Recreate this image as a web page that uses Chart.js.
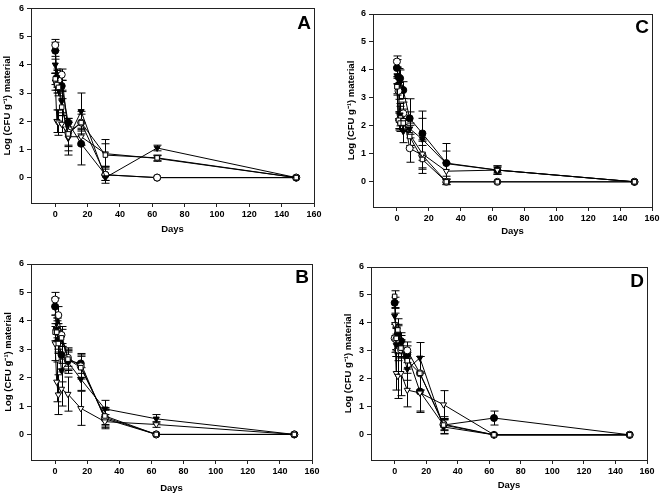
<!DOCTYPE html>
<html>
<head>
<meta charset="utf-8">
<script src="https://cdn.jsdelivr.net/npm/chart.js@4"></script>
<style>
  html, body { margin: 0; padding: 0; background: #fff; }
  #wrap { position: relative; width: 664px; height: 494px; }
  canvas { position: absolute; }
</style>
</head>
<body>
<div id="wrap">
  <canvas id="chartA" width="330" height="240" style="left:0;top:0"></canvas>
  <canvas id="chartC" width="334" height="240" style="left:330px;top:0"></canvas>
  <canvas id="chartB" width="330" height="254" style="left:0;top:240px"></canvas>
  <canvas id="chartD" width="334" height="254" style="left:330px;top:240px"></canvas>
</div>
<script>
// sampling days (x axis)
var days = [0, 1, 2, 4, 8, 16, 31, 63, 149];
var xTicks = [0, 20, 40, 60, 80, 100, 120, 140, 160];
var yTicks = [0, 1, 2, 3, 4, 5, 6];

// Panel A
var aFilledCircle = [4.5, 3.5, 3.3, 3.25, 1.95, 1.2, 0.1, 0, 0];
var aFilledCircleErr = [0.3, 0.3, 0.2, 0.2, 0.15, 0.75, 0.3, 0, 0];
var aOpenCircle = [4.7, 3.4, 3.45, 3.65, 1.6, 1.95, 0.1, 0, 0];
var aOpenCircleErr = [0.2, 0.3, 0.2, 0.2, 0.5, 0.3, 0.2, 0, 0];
var aFilledTri = [4.0, 3.55, 3.3, 2.7, 1.4, 2.35, 0, 1.05, 0];
var aFilledTriErr = [0.3, 0.3, 0.3, 0.4, 0.6, 0.65, 0.1, 0.1, 0];
var aOpenTri = [3.4, 2.0, 1.95, 1.9, 1.45, 1.45, 0.85, 0.68, 0];
var aOpenTriErr = [0.3, 0.4, 0.45, 0.3, 0.5, 0.3, 0.5, 0.1, 0];
var aOpenSquare = [3.5, 3.3, 3.2, 2.5, 1.55, 1.95, 0.8, 0.7, 0];
var aOpenSquareErr = [0.2, 0.3, 0.3, 0.3, 0.4, 0.4, 0.4, 0.1, 0];

// Panel B
var bFilledCircle = [4.5, 3.7, 3.3, 2.8, 2.6, 2.5, 0.55, 0, 0];
var bFilledCircleErr = [0.3, 0.3, 0.3, 0.3, 0.3, 0.35, 0.3, 0, 0];
var bOpenCircle = [4.75, 3.7, 4.2, 3.5, 2.7, 2.4, 0.6, 0, 0];
var bOpenCircleErr = [0.25, 0.4, 0.3, 0.3, 0.3, 0.4, 0.3, 0, 0];
var bFilledTri = [4.5, 3.7, 3.25, 2.25, 2.55, 1.95, 0.9, 0.55, 0];
var bFilledTriErr = [0.3, 0.4, 0.4, 0.4, 0.4, 0.4, 0.3, 0.15, 0];
var bOpenTri = [3.2, 1.85, 1.4, 1.6, 1.42, 0.92, 0.45, 0.35, 0];
var bOpenTriErr = [0.6, 0.7, 0.7, 0.6, 0.6, 0.6, 0.25, 0.1, 0];
var bOpenSquare = [3.6, 3.6, 3.2, 3.4, 2.65, 2.35, 0.65, 0, 0];
var bOpenSquareErr = [0.3, 0.3, 0.3, 0.3, 0.4, 0.4, 0.3, 0, 0];

// Panel C
var cFilledCircle = [4.07, 3.75, 3.7, 3.28, 2.27, 1.73, 0.67, 0.42, 0];
var cFilledCircleErr = [0.3, 0.3, 0.3, 0.3, 0.7, 0.8, 0.7, 0.15, 0];
var cOpenCircle = [4.3, 3.25, 2.2, 2.45, 1.2, 0.95, 0, 0, 0];
var cOpenCircleErr = [0.2, 0.3, 0.3, 0.4, 0.5, 0.5, 0.1, 0, 0];
var cFilledTri = [3.8, 2.2, 2.4, 1.8, 1.9, 1.52, 0.65, 0.42, 0];
var cFilledTriErr = [0.3, 0.3, 0.4, 0.4, 0.6, 0.75, 0.45, 0.15, 0];
var cOpenTri = [3.45, 2.15, 2.3, 2.2, 1.7, 1.0, 0.38, 0.42, 0];
var cOpenTriErr = [0.3, 0.3, 0.4, 0.4, 0.4, 0.5, 0.3, 0.1, 0];
var cOpenSquare = [3.4, 2.2, 2.1, 2.1, 1.62, 0.8, 0, 0, 0];
var cOpenSquareErr = [0.3, 0.3, 0.3, 0.3, 0.4, 0.5, 0.1, 0, 0];

// Panel D
var dFilledCircle = [4.72, 3.45, 3.6, 3.35, 2.88, 1.55, 0.35, 0.6, 0];
var dFilledCircleErr = [0.2, 0.4, 0.3, 0.3, 0.3, 0.7, 0.3, 0.25, 0];
var dOpenCircle = [3.45, 3.4, 3.05, 3.05, 3.02, 2.2, 0.38, 0, 0];
var dOpenCircleErr = [0.5, 0.4, 0.4, 0.3, 0.3, 0.6, 0.2, 0, 0];
var dFilledTri = [4.25, 3.2, 3.55, 3.15, 2.35, 2.75, 0.28, 0, 0];
var dFilledTriErr = [0.3, 0.4, 0.4, 0.4, 0.4, 0.55, 0.25, 0, 0];
var dOpenTri = [3.95, 2.2, 2.1, 2.2, 1.6, 1.5, 1.08, 0, 0];
var dOpenTriErr = [0.4, 0.6, 0.8, 0.8, 0.6, 0.7, 0.5, 0, 0];
var dOpenSquare = [4.95, 3.45, 3.75, 3.1, 2.65, 2.2, 0.35, 0, 0];
var dOpenSquareErr = [0.2, 0.4, 0.4, 0.3, 0.3, 0.6, 0.2, 0, 0];

function series(values, errs, style, filled) {
    return {
        data: days.map(function(d, i) { return { x: d, y: values[i] }; }),
        errors: errs,
        showLine: true,
        borderColor: '#000',
        borderWidth: 1,
        tension: 0,
        pointStyle: style,
        pointRotation: style === 'triangle' ? 180 : 0,
        pointRadius: style === 'rect' ? 3.2 : 3.5,
        pointBorderColor: '#000',
        pointBorderWidth: 1,
        pointBackgroundColor: filled ? '#000' : '#fff'
    };
}

// error bars drawn under the markers
var errorBars = {
    id: 'errorBars',
    beforeDatasetsDraw: function(chart) {
        var ctx = chart.ctx, ys = chart.scales.y, xs = chart.scales.x;
        ctx.save();
        ctx.strokeStyle = '#000';
        ctx.lineWidth = 1;
        chart.data.datasets.forEach(function(ds) {
            ds.data.forEach(function(p, i) {
                var e = ds.errors[i];
                if (!e) return;
                var px = Math.round(xs.getPixelForValue(p.x)) + 0.5;
                var top = ys.getPixelForValue(p.y + e);
                var bot = ys.getPixelForValue(p.y - e);
                ctx.beginPath();
                ctx.moveTo(px, top); ctx.lineTo(px, bot);
                ctx.moveTo(px - 4, top); ctx.lineTo(px + 4, top);
                ctx.moveTo(px - 4, bot); ctx.lineTo(px + 4, bot);
                ctx.stroke();
            });
        });
        ctx.restore();
    }
};

// box round the plot and the panel letter
var frame = {
    id: 'frame',
    afterDraw: function(chart, args, opts) {
        var a = chart.chartArea, ctx = chart.ctx;
        ctx.save();
        ctx.strokeStyle = '#222';
        ctx.lineWidth = 1;
        ctx.strokeRect(Math.round(a.left) + 0.5, Math.round(a.top) + 0.5,
            Math.round(a.right - a.left), Math.round(a.bottom - a.top));
        ctx.fillStyle = '#000';
        ctx.font = 'bold 19px "Liberation Sans", Arial, sans-serif';
        ctx.textAlign = 'right';
        ctx.textBaseline = 'top';
        ctx.fillText(opts.letter, a.right - 3, a.top + opts.dy);
        ctx.restore();
    }
};

function makeChart(id, letter, sets, lay) {
    var font = { family: '"Liberation Sans", Arial, sans-serif', size: 9, weight: 'bold' };
    var titleFont = { family: '"Liberation Sans", Arial, sans-serif', size: 9.5, weight: 'bold' };
    new Chart(document.getElementById(id), {
        type: 'line',
        data: { datasets: sets },
        options: {
            responsive: false,
            animation: false,
            layout: { padding: { left: lay.pl, top: lay.pt, right: lay.pr, bottom: lay.pb } },
            plugins: {
                legend: { display: false },
                tooltip: { enabled: false },
                frame: { letter: letter, dy: lay.dy }
            },
            scales: {
                x: {
                    type: 'linear', min: -15, max: 160,
                    afterBuildTicks: function(s) { s.ticks = xTicks.map(function(v) { return { value: v }; }); },
                    afterFit: function(s) { s.height = lay.xh; },
                    grid: { drawOnChartArea: false, drawTicks: true, tickLength: 4, color: '#222' },
                    border: { color: '#222' },
                    ticks: { color: '#000', font: font, padding: 2, maxRotation: 0 },
                    title: { display: true, text: 'Days', color: '#000', font: titleFont, padding: 0 }
                },
                y: {
                    type: 'linear', min: -0.9, max: 6,
                    afterBuildTicks: function(s) { s.ticks = yTicks.map(function(v) { return { value: v }; }); },
                    afterFit: function(s) { s.width = lay.yw; },
                    grid: { drawOnChartArea: false, drawTicks: true, tickLength: 4, color: '#222' },
                    border: { color: '#222' },
                    ticks: { color: '#000', font: font, padding: 3 },
                    title: { display: true, text: 'Log (CFU g\u207B\u00B9) material', color: '#000', font: titleFont, padding: 0 }
                }
            }
        },
        plugins: [errorBars, frame]
    });
}

makeChart('chartA', 'A', [
    series(aOpenSquare, aOpenSquareErr, 'rect', false),
    series(aOpenTri, aOpenTriErr, 'triangle', false),
    series(aFilledTri, aFilledTriErr, 'triangle', true),
    series(aOpenCircle, aOpenCircleErr, 'circle', false),
    series(aFilledCircle, aFilledCircleErr, 'circle', true)
], { pl: 2, yw: 29, pt: 7, pr: 16, pb: 5, xh: 32, dy: 6 });

makeChart('chartC', 'C', [
    series(cOpenSquare, cOpenSquareErr, 'rect', false),
    series(cOpenTri, cOpenTriErr, 'triangle', false),
    series(cFilledTri, cFilledTriErr, 'triangle', true),
    series(cOpenCircle, cOpenCircleErr, 'circle', false),
    series(cFilledCircle, cFilledCircleErr, 'circle', true)
], { pl: 16, yw: 27, pt: 14, pr: 12, pb: 3, xh: 30, dy: 4 });

makeChart('chartB', 'B', [
    series(bOpenSquare, bOpenSquareErr, 'rect', false),
    series(bOpenTri, bOpenTriErr, 'triangle', false),
    series(bFilledTri, bFilledTriErr, 'triangle', true),
    series(bOpenCircle, bOpenCircleErr, 'circle', false),
    series(bFilledCircle, bFilledCircleErr, 'circle', true)
], { pl: 3, yw: 28, pt: 24, pr: 18, pb: 0, xh: 34, dy: 4 });

makeChart('chartD', 'D', [
    series(dOpenSquare, dOpenSquareErr, 'rect', false),
    series(dOpenTri, dOpenTriErr, 'triangle', false),
    series(dFilledTri, dFilledTriErr, 'triangle', true),
    series(dOpenCircle, dOpenCircleErr, 'circle', false),
    series(dFilledCircle, dFilledCircleErr, 'circle', true)
], { pl: 13, yw: 28, pt: 27, pr: 17, pb: 3, xh: 31, dy: 5 });
</script>
</body>
</html>
